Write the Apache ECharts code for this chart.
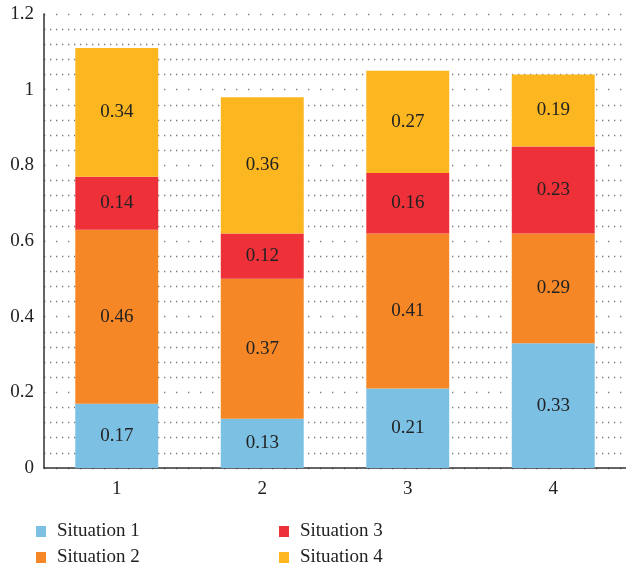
<!DOCTYPE html>
<html>
<head>
<meta charset="utf-8">
<script src="https://cdn.jsdelivr.net/npm/echarts@6/dist/echarts.min.js"></script>
<style>
  html, body { margin: 0; padding: 0; background: #fff; }
  #chart { width: 626px; height: 569px; }
</style>
</head>
<body>
<div id="chart"></div>
<script>
// Stacked shares for four groups, one series per situation
const categories = ['1', '2', '3', '4'];
const situationNames = ['Situation 1', 'Situation 2', 'Situation 3', 'Situation 4'];
const situation1 = [0.17, 0.13, 0.21, 0.33];
const situation2 = [0.46, 0.37, 0.41, 0.29];
const situation3 = [0.14, 0.12, 0.16, 0.23];
const situation4 = [0.34, 0.36, 0.27, 0.19];
const colors = ['#7cc0e4', '#f58727', '#ee3139', '#fbb620'];

const FONT = '"Liberation Serif", "DejaVu Serif", serif';
const seriesData = [situation1, situation2, situation3, situation4];

const chart = echarts.init(document.getElementById('chart'), null, { renderer: 'canvas' });

const series = seriesData.map((vals, i) => ({
  name: situationNames[i],
  type: 'bar',
  stack: 'total',
  data: vals,
  barWidth: '57%',
  itemStyle: { color: colors[i] },
  label: {
    show: true,
    position: 'inside',
    color: '#222',
    fontFamily: FONT,
    fontSize: 19,
    formatter: p => String(p.value)
  }
}));

const legendText = { color: '#222', fontFamily: FONT, fontSize: 19 };

// Legend laid out as a 2x2 block: one legend component per entry
const legendSlots = [
  { left: 36, top: 522 },
  { left: 36, top: 548 },
  { left: 279, top: 522 },
  { left: 279, top: 548 }
];
const legends = situationNames.map((name, i) => ({
  data: [name],
  left: legendSlots[i].left,
  top: legendSlots[i].top,
  padding: 0,
  itemWidth: 10, itemHeight: 11, itemGap: 0,
  icon: 'rect',
  textStyle: Object.assign({ padding: [0, 0, 0, 6] }, legendText)
}));

chart.setOption({
  animation: false,
  color: colors,
  grid: { left: 44, right: 0, top: 14, bottom: 101, containLabel: false },
  legend: legends,
  xAxis: {
    type: 'category',
    data: categories,
    axisLine: { lineStyle: { color: '#333', width: 1.5 } },
    axisTick: { show: false },
    axisLabel: { color: '#222', fontFamily: FONT, fontSize: 19, margin: 12 }
  },
  yAxis: {
    type: 'value',
    min: 0, max: 1.2, interval: 0.2,
    axisLine: { show: true, lineStyle: { color: '#333', width: 1.5 } },
    axisTick: { show: false },
    axisLabel: { color: '#222', fontFamily: FONT, fontSize: 19, margin: 10 },
    splitLine: { show: true, lineStyle: { color: '#777', width: 1.3, type: [1.3, 10.7] } },
    minorTick: { show: false, splitNumber: 5 },
    minorSplitLine: { show: true, lineStyle: { color: '#777', width: 1.3, type: [1.3, 4.7] } }
  },
  series: series
});
</script>
</body>
</html>
